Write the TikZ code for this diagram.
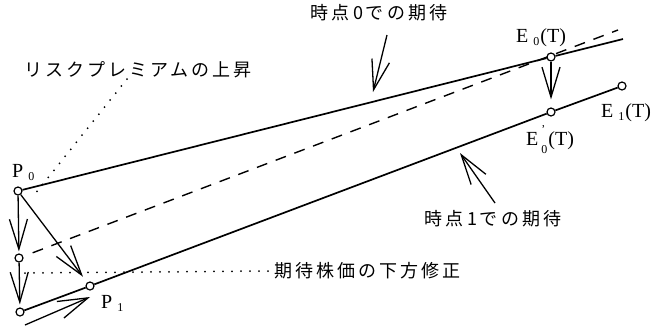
\documentclass[tikz,border=0pt]{standalone}
\usepackage{fontspec}
\setmainfont{Liberation Serif}
\newfontfamily\jpfont[LetterSpace=16.7]{Noto Sans CJK JP}
\usetikzlibrary{arrows.meta}
\pgfdeclarelayer{bg}
\pgfsetlayers{bg,main}
\newcommand\lsub[1]{\hspace{5pt}\raisebox{-3pt}{\fontsize{12}{12}\selectfont #1}\hspace{1pt}}
\newcommand\lsubprime[1]{\hspace{3pt}$\vcenter{\hbox{\fontsize{12}{12}\selectfont ’}\kern-2pt\hbox{\fontsize{12}{12}\selectfont #1}}$\hspace{1pt}}
\begin{document}
\begin{tikzpicture}[x=1pt,y=-1pt,
  pt/.style={circle,draw,fill=white,inner sep=0pt,minimum size=8pt,line width=1.2pt},
  mainline/.style={line width=1.7pt},
  arr/.style={line width=1.3pt,-{Straight Barb[length=30pt,width=18pt]}},
  jtext/.style={font=\jpfont\fontsize{18}{20}\selectfont,inner sep=0pt},
  ltext/.style={font=\fontsize{20}{22}\selectfont,inner sep=0pt,anchor=base west},
  dots/.style={line width=2pt,line cap=round,dash pattern=on 0pt off 9pt},
  dashline/.style={line width=1.4pt,dash pattern=on 11pt off 9pt}]
\useasboundingbox (0,0) rectangle (670,327);

% points
\node[pt] (P0) at (18,191) {};
\node[pt] (M) at (19,258) {};
\node[pt] (B) at (20,312) {};
\node[pt] (P1) at (90,286) {};
\node[pt] (E0) at (551,57) {};
\node[pt] (E0p) at (551,112) {};
\node[pt] (E1) at (622,86) {};
\coordinate (Uend) at (623,39);
\coordinate (Dend) at (618,30);

% labels
\node[ltext] (LP0) at (12,177) {P\lsub{0}};
\node[ltext] (LP1) at (101,308) {P\lsub{1}};
\node[ltext] (LE0) at (516,42) {E\lsub{0}(T)};
\node[ltext] (LE0p) at (526,145) {E\lsubprime{0}(T)};
\node[ltext] (LE1) at (601,117) {E\lsub{1}(T)};

\node[jtext] (T0) at (379,13) {時点0での期待};
\node[jtext] (T1) at (493,219) {時点1での期待};
\node[jtext,anchor=west] (KL) at (274,271) {期待株価の下方修正};
\node[jtext] (RL) at (138,70) {リスクプレミアムの上昇};

% lines
\draw[mainline] (P0) -- (E0) -- (Uend);
\draw[mainline] (B) -- (P1) -- (E0p) -- (E1);
\begin{pgfonlayer}{bg}
\draw[dashline,shorten <=10pt] (M) -- (Dend);
\end{pgfonlayer}

% dotted leaders
\coordinate (rs) at (127,79);
\coordinate (re) at (35,194);
\draw[dots] (rs) -- (re);
\coordinate (ks) at (25,273);
\draw[dots] (ks) -- ([xshift=-4pt]KL.west);

% arrows
\draw[arr,shorten >=2pt] (P0) -- (M);
\draw[arr,shorten >=3pt] (M) -- (B);
\draw[arr,shorten >=7pt] (P0) -- (P1);
\draw[arr,shorten >=8pt] (E0) -- (E0p);
\coordinate (a0s) at (387,35);
\coordinate (a0e) at (373,92);
\draw[arr] (a0s) -- (a0e);
\coordinate (a1s) at (495,203);
\coordinate (a1e) at (460,153);
\draw[arr] (a1s) -- (a1e);
\coordinate (a2s) at (25,325);
\coordinate (a2e) at (90,297);
\draw[arr] (a2s) -- (a2e);
\end{tikzpicture}
\end{document}
